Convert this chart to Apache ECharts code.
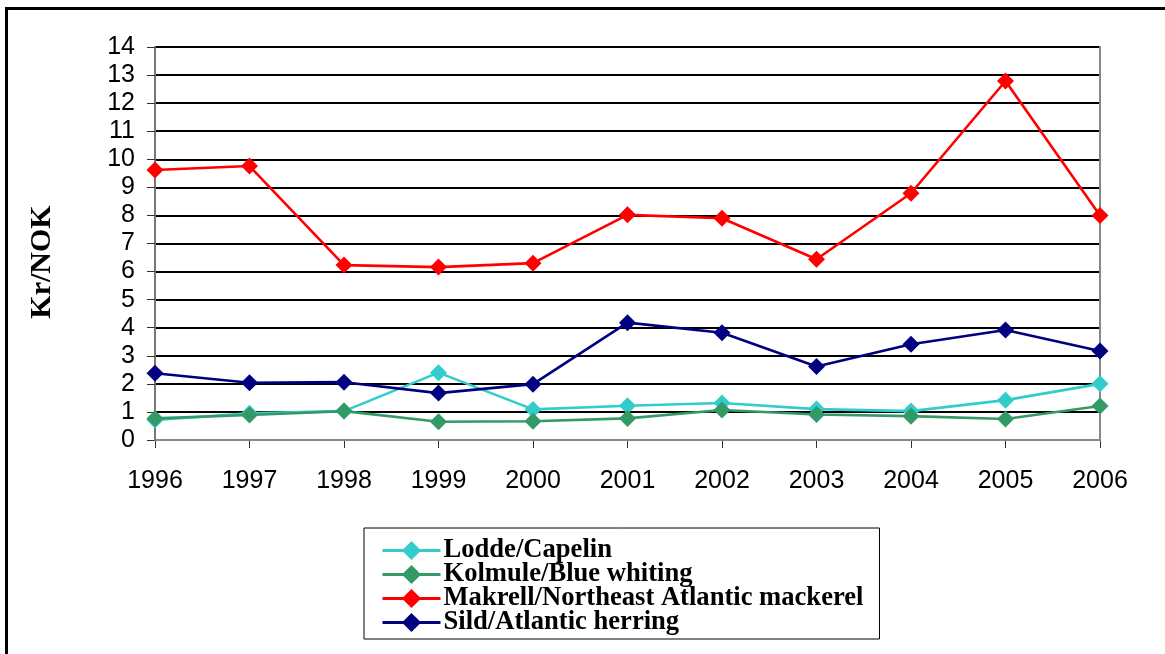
<!DOCTYPE html>
<html>
<head>
<meta charset="utf-8">
<script src="https://cdn.jsdelivr.net/npm/echarts@6.0.0/dist/echarts.min.js"></script>
<style>
html,body{margin:0;padding:0;background:#fff;}
#chart{width:1165px;height:654px;}
</style>
</head>
<body>
<div id="chart"></div>
<script>
const years = ['1996','1997','1998','1999','2000','2001','2002','2003','2004','2005','2006'];
const lodde   = [0.71, 0.95, 1.03, 2.40, 1.09, 1.22, 1.32, 1.10, 1.03, 1.42, 2.00];
const kolmule = [0.77, 0.89, 1.03, 0.65, 0.67, 0.77, 1.07, 0.91, 0.85, 0.75, 1.21];
const makrell = [9.62, 9.76, 6.23, 6.16, 6.30, 8.02, 7.90, 6.44, 8.79, 12.79, 8.00];
const sild    = [2.38, 2.04, 2.06, 1.67, 1.99, 4.18, 3.82, 2.62, 3.41, 3.92, 3.17];
const seriesNames = ['Lodde/Capelin','Kolmule/Blue whiting','Makrell/Northeast Atlantic mackerel','Sild/Atlantic herring'];
const seriesColors = ['#33CCCC','#339966','#FF0000','#000080'];
const seriesData = [lodde, kolmule, makrell, sild];
const yTitle = 'Kr/NOK';

const chart = echarts.init(document.getElementById('chart'), null, {renderer:'canvas'});
const option = {
  animation: false,
  backgroundColor: '#ffffff',
  graphic: [{
    type: 'rect',
    shape: {x: 6.5, y: 8.5, width: 1300, height: 800},
    style: {fill: 'none', stroke: '#000', lineWidth: 3},
    silent: true
  }, {
    type: 'text',
    x: 42, y: 262,
    rotation: Math.PI / 2,
    style: {
      text: yTitle,
      fontFamily: 'Liberation Serif', fontWeight: 'bold', fontSize: 30,
      fill: '#000', align: 'center', verticalAlign: 'middle'
    },
    silent: true
  }],
  grid: {left: 155, top: 47, right: 65, bottom: 214, containLabel: false},
  legend: {
    orient: 'vertical',
    left: 364, top: 528,
    padding: [9, 16, 3, 17],
    itemGap: -3,
    itemWidth: 58,
    itemHeight: 24,
    borderColor: '#000',
    borderWidth: 1,
    backgroundColor: '#fff',
    lineStyle: {width: 3},
    textStyle: {fontFamily: 'Liberation Serif', fontWeight: 'bold', fontSize: 26.6, color: '#000', lineHeight: 25, padding: [0,0,0,-2]},
    data: seriesNames
  },
  xAxis: [{
    type: 'category',
    data: years,
    boundaryGap: false,
    axisLine: {lineStyle: {color: '#555', width: 2}},
    axisTick: {show: true, length: 8, lineStyle: {color: '#333', width: 1}},
    axisLabel: {fontFamily: 'Liberation Sans', fontSize: 25, color: '#000', margin: 29},
    splitLine: {show: false}
  }, {
    type: 'category',
    data: years,
    boundaryGap: false,
    position: 'top',
    z: 5,
    axisLine: {show: true, lineStyle: {color: '#888', width: 2}},
    axisTick: {show: false},
    axisLabel: {show: false},
    splitLine: {show: false}
  }],
  yAxis: [{
    type: 'value',
    min: 0, max: 14, interval: 1,
    axisLine: {show: true, lineStyle: {color: '#777', width: 2}},
    axisTick: {show: true, length: 8, lineStyle: {color: '#333', width: 1}},
    axisLabel: {fontFamily: 'Liberation Sans', fontSize: 25, color: '#000', margin: 20},
    splitLine: {show: true, lineStyle: {color: '#000', width: 2}}
  }, {
    type: 'value',
    min: 0, max: 14, interval: 1,
    position: 'right',
    z: 5,
    axisLine: {show: true, lineStyle: {color: '#888', width: 2}},
    axisTick: {show: false},
    axisLabel: {show: false},
    splitLine: {show: false}
  }],
  series: seriesNames.map((n, i) => ({
    name: n,
    type: 'line',
    data: seriesData[i],
    xAxisIndex: 0,
    yAxisIndex: 0,
    symbol: 'diamond',
    symbolSize: 17,
    showAllSymbol: true,
    z: 10 + i,
    lineStyle: {color: seriesColors[i], width: 2.6},
    itemStyle: {color: seriesColors[i]},
    emphasis: {disabled: true}
  }))
};
chart.setOption(option);
</script>
</body>
</html>
